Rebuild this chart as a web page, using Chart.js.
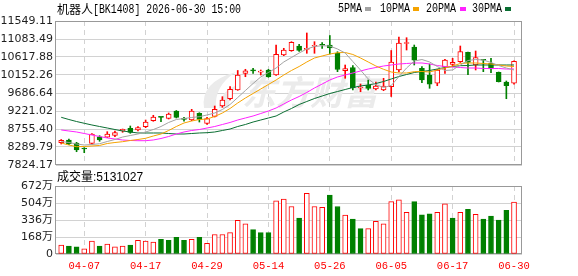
<!DOCTYPE html>
<html>
<head>
<meta charset="utf-8">
<script src="https://cdn.jsdelivr.net/npm/chart.js@4.4.1/dist/chart.umd.min.js"></script>
<style>
    html, body { margin: 0; padding: 0; background: #ffffff; }
    #wrap { position: relative; width: 578px; height: 276px; }
    #wrap canvas { position: absolute; left: 0; top: 0; }
</style>
</head>
<body>
<div id="wrap">
    <canvas id="priceChart" width="578" height="276"></canvas>
    <canvas id="volChart" width="578" height="276"></canvas>
</div>
<script>
// ===========================
// Data
// ===========================

const dates = [
    '04-01', '04-02', '04-03', '04-07', '04-08', '04-09', '04-10', '04-13', '04-14', '04-15',
    '04-16', '04-17', '04-20', '04-21', '04-22', '04-23', '04-24', '04-27', '04-28', '04-29',
    '04-30', '05-06', '05-07', '05-08', '05-11', '05-12', '05-13', '05-14', '05-15', '05-18',
    '05-19', '05-20', '05-21', '05-22', '05-25', '05-26', '05-27', '05-28', '05-29', '06-01',
    '06-02', '06-03', '06-04', '06-05', '06-08', '06-09', '06-10', '06-11', '06-12', '06-15',
    '06-16', '06-17', '06-18', '06-22', '06-23', '06-24', '06-25', '06-26', '06-29', '06-30'
];

const openP = [
    8401, 8471, 8393, 8246, 8385, 8556, 8541, 8592, 8704, 8773,
    8730, 8815, 8970, 9066, 9032, 9221, 9014, 8988, 9162, 8898,
    9084, 9350, 9539, 9764, 10196, 10269, 10225, 10282, 10152, 10670,
    10781, 10902, 10817, 10895, 10928, 10928, 10714, 10263, 10346, 9816,
    9894, 9790, 9764, 9850, 10282, 10967, 10877, 10326, 10152, 9938,
    10359, 10429, 10496, 10739, 10411, 10540, 10455, 10222, 9971, 9938
];
const highP = [
    8484, 8497, 8411, 8272, 8639, 8582, 8686, 8704, 8755, 8833,
    8815, 8988, 9110, 9071, 9169, 9234, 9058, 9265, 9177, 9058,
    9350, 9591, 9850, 10269, 10300, 10326, 10282, 10300, 10928, 10843,
    11014, 10946, 11239, 11014, 10988, 11174, 10755, 10411, 10398, 9919,
    10023, 9971, 10067, 10786, 11135, 11117, 10928, 10367, 10437, 10300,
    10558, 10584, 10902, 10747, 10773, 10553, 10584, 10230, 9997, 10522
];
const lowP = [
    8367, 8349, 8168, 8142, 8367, 8437, 8535, 8556, 8670, 8644,
    8704, 8789, 8955, 8944, 9014, 9040, 8955, 8970, 8936, 8877,
    9066, 9317, 9506, 9755, 10108, 10196, 10152, 10093, 10144, 10652,
    10765, 10765, 10714, 10714, 10843, 10695, 10238, 10067, 9764, 9720,
    9764, 9764, 9746, 9596, 10230, 10799, 10411, 9953, 9808, 9875,
    10196, 10367, 10476, 10160, 10282, 10238, 10212, 9971, 9539, 9912
];
const closeP = [
    8463, 8375, 8212, 8238, 8626, 8471, 8626, 8660, 8748, 8670,
    8789, 8936, 9066, 9055, 9143, 9058, 9004, 9221, 9006, 9027,
    9265, 9506, 9782, 10152, 10263, 10261, 10225, 10108, 10688, 10799,
    10998, 10791, 10833, 10908, 10921, 10851, 10295, 10320, 9816, 9816,
    9808, 9868, 9868, 10489, 10980, 10975, 10533, 10023, 9912, 10282,
    10535, 10481, 10760, 10476, 10605, 10533, 10307, 9979, 9875, 10507
];

const ma5 = [
    8432, 8406, 8367, 8341, 8354, 8375, 8432, 8484, 8548, 8587,
    8626, 8678, 8742, 8820, 8924, 9001, 9027, 9053, 9074, 9118,
    9169, 9260, 9389, 9570, 9751, 9932, 10101, 10217, 10333, 10489,
    10605, 10721, 10825, 10889, 10910, 10902, 10825, 10721, 10500, 10280,
    10050, 9900, 9830, 9880, 10110, 10333, 10514, 10553, 10489, 10372,
    10269, 10282, 10411, 10527, 10553, 10540, 10476, 10398, 10333, 10282
];
const ma10 = [
    8393, 8341, 8298, 8303, 8316, 8329, 8380, 8406, 8427, 8458,
    8484, 8515, 8574, 8626, 8717, 8820, 8911, 8962, 9001, 9014,
    9079, 9169, 9286, 9428, 9557, 9674, 9790, 9907, 10023, 10152,
    10269, 10372, 10489, 10592, 10644, 10695, 10729, 10734, 10683, 10592,
    10489, 10385, 10300, 10230, 10204, 10204, 10238, 10243, 10230, 10282,
    10333, 10385, 10450, 10463, 10463, 10450, 10437, 10411, 10385, 10372
];
const ma20 = [
    8730, 8704, 8678, 8639, 8600, 8561, 8523, 8497, 8471, 8458,
    8453, 8453, 8471, 8510, 8561, 8626, 8678, 8717, 8742, 8781,
    8820, 8872, 8924, 8988, 9040, 9092, 9156, 9221, 9299, 9402,
    9506, 9596, 9700, 9816, 9919, 10023, 10101, 10152, 10204, 10256,
    10307, 10346, 10385, 10411, 10437, 10450, 10463, 10463, 10437, 10398,
    10372, 10359, 10346, 10333, 10333, 10320, 10320, 10320, 10307, 10307
];
const ma30 = [
    9058, 9001, 8949, 8903, 8859, 8820, 8781, 8742, 8704, 8678,
    8652, 8652, 8652, 8652, 8639, 8626, 8626, 8639, 8652, 8660,
    8678, 8717, 8755, 8820, 8872, 8936, 8988, 9040, 9092, 9195,
    9286, 9389, 9467, 9544, 9609, 9674, 9725, 9777, 9829, 9868,
    9894, 9932, 9984, 10049, 10113, 10165, 10217, 10243, 10269, 10307,
    10346, 10372, 10393, 10398, 10411, 10411, 10411, 10411, 10411, 10411
];

// volume in 万 (10k shares); 1 = red (up) bar, 0 = green bar
const volume = [
    89, 79, 70, 51, 127, 79, 98, 70, 79, 89,
    136, 127, 117, 146, 136, 165, 136, 146, 165, 105,
    193, 193, 212, 333, 298, 241, 212, 212, 526, 542,
    469, 355, 599, 469, 460, 583, 469, 384, 346, 250,
    250, 323, 298, 517, 536, 412, 517, 387, 396, 412,
    495, 355, 412, 441, 393, 346, 374, 336, 431, 513.1
];
const volUp = [
    1, 0, 0, 1, 1, 0, 1, 1, 1, 0,
    1, 1, 1, 0, 0, 0, 0, 1, 0, 1,
    1, 1, 1, 1, 1, 0, 0, 0, 1, 1,
    1, 0, 1, 1, 1, 0, 0, 1, 0, 0,
    1, 1, 1, 1, 1, 1, 0, 0, 0, 1,
    1, 0, 1, 0, 1, 0, 0, 0, 0, 1
];

const priceTicks = [7824.17, 8289.79, 8755.40, 9221.02, 9686.64, 10152.26, 10617.88, 11083.49, 11549.11];
const volTicks = [0, 168, 336, 504, 672];
const axisDates = ['04-07', '04-17', '04-29', '05-14', '05-26', '06-05', '06-17', '06-30'];

const maNames = ['5PMA', '10PMA', '20PMA', '30PMA'];
const maSeries = [ma5, ma10, ma20, ma30];

const titleName = '机器人';
const titleCode = '[BK1408] 2026-06-30 15:00';
const volTitle = '成交量:5131027';

// ===========================
// Styles
// ===========================

const RED = '#ff0000';
const GREEN = '#008000';
const MA_COLORS = ['#a3a3a3', '#f5a300', '#ff22ff', '#0a6e32'];
const GRID = '#d2d2d2';
const FRAME = '#999999';
const X_MIN = -0.68;
const X_MAX = 60.04;
const tickIdx = axisDates.map(d => dates.indexOf(d));

const pts = arr => arr.map((v, i) => ({ x: i, y: v }));
const candleUp = i => closeP[i] >= openP[i];

function xScale(showLabels) {
    return {
        type: 'linear',
        min: X_MIN,
        max: X_MAX,
        offset: false,
        afterBuildTicks: s => { s.ticks = tickIdx.map(v => ({ value: v })); },
        afterFit: s => { s.height = showLabels ? 22 : 0; },
        grid: { color: GRID, drawTicks: false, offset: false },
        border: { display: false, dash: [5, 4] },
        ticks: {
            display: showLabels,
            autoSkip: false,
            maxRotation: 0,
            padding: 6,
            color: RED,
            font: { family: '"Liberation Mono"', size: 10.5 },
            callback: v => dates[v]
        }
    };
}

function frame(ctx, a) {
    ctx.strokeStyle = FRAME;
    ctx.lineWidth = 1;
    ctx.strokeRect(Math.round(a.left) - 0.5, Math.round(a.top) + 0.5,
        Math.round(a.right - a.left), Math.round(a.bottom - a.top) - 1);
}

// watermark, frame and header texts of the price panel
const priceDecor = {
    id: 'priceDecor',
    beforeDatasetsDraw(chart) {
        const ctx = chart.ctx;
        ctx.save();
        ctx.fillStyle = '#ebebeb';
        // logo swoosh
        ctx.beginPath();
        ctx.moveTo(204, 108);
        ctx.quadraticCurveTo(200, 82, 236, 72);
        ctx.quadraticCurveTo(214, 86, 216, 108);
        ctx.closePath();
        ctx.fill();
        ctx.beginPath();
        ctx.moveTo(219, 108);
        ctx.quadraticCurveTo(220, 90, 240, 84);
        ctx.quadraticCurveTo(228, 94, 229, 108);
        ctx.closePath();
        ctx.fill();
        ctx.font = 'italic bold 34px "Noto Sans CJK SC"';
        ctx.textBaseline = 'middle';
        ctx.fillText('东方财富', 242, 92);
        frame(ctx, chart.chartArea);
        ctx.restore();
    },
    afterDraw(chart) {
        const ctx = chart.ctx;
        ctx.save();
        ctx.fillStyle = '#000000';
        ctx.textBaseline = 'middle';
        ctx.font = '12px "Noto Sans CJK SC"';
        ctx.fillText(titleName, 57, 9);
        ctx.font = '12px "Liberation Mono"';
        ctx.fillText(titleCode, 93, 9.5, 148);

        const textX = [338, 380, 426, 472];
        const swatchX = [365, 413, 460, 505];
        maNames.forEach((name, k) => {
            ctx.fillStyle = '#000000';
            ctx.fillText(name, textX[k], 8.5, name.length * 6);
            ctx.fillStyle = MA_COLORS[k];
            ctx.fillRect(swatchX[k], 7, 6, 4);
        });
        ctx.restore();
    }
};

const volDecor = {
    id: 'volDecor',
    beforeDatasetsDraw(chart) {
        const ctx = chart.ctx;
        ctx.save();
        frame(ctx, chart.chartArea);
        ctx.fillStyle = '#000000';
        ctx.textBaseline = 'middle';
        ctx.font = '12px "Liberation Sans", "Noto Sans CJK SC"';
        ctx.fillText(volTitle, 57, 178);
        ctx.restore();
    }
};

const commonOpts = {
    responsive: false,
    animation: false,
    devicePixelRatio: 1,
    events: [],
    plugins: { legend: { display: false }, tooltip: { enabled: false } }
};

// ===========================
// Price (candlestick) chart
// ===========================

new Chart(document.getElementById('priceChart'), {
    type: 'bar',
    data: {
        datasets: [
            ...maNames.map((name, k) => ({
                type: 'line',
                label: name,
                data: pts(maSeries[k]),
                borderColor: MA_COLORS[k],
                borderWidth: 1,
                pointRadius: 0,
                tension: 0,
                order: 0
            })),
            {
                label: 'body',
                data: dates.map((d, i) => ({ x: i, y: [openP[i], closeP[i]] })),
                backgroundColor: dates.map((d, i) => candleUp(i) ? '#ffffff' : GREEN),
                borderColor: dates.map((d, i) => candleUp(i) ? RED : GREEN),
                borderWidth: 1,
                borderSkipped: false,
                barThickness: 5,
                minBarLength: 1,
                grouped: false,
                order: 1
            },
            {
                label: 'wick',
                data: dates.map((d, i) => ({ x: i, y: [lowP[i], highP[i]] })),
                backgroundColor: dates.map((d, i) => candleUp(i) ? RED : GREEN),
                borderWidth: 0,
                barThickness: 1,
                grouped: false,
                order: 2
            }
        ]
    },
    options: {
        ...commonOpts,
        layout: { padding: { top: 21, right: 56, bottom: 111, left: 0 } },
        scales: {
            x: xScale(false),
            y: {
                min: priceTicks[0],
                max: priceTicks[priceTicks.length - 1],
                stacked: false,
                afterBuildTicks: s => { s.ticks = priceTicks.map(v => ({ value: v })); },
                afterFit: s => { s.width = 56; },
                grid: { color: GRID, drawTicks: false },
                border: { display: false },
                ticks: {
                    padding: 3,
                    color: '#1e1e1e',
                    font: { family: '"DejaVu Sans"', size: 11 },
                    callback: v => v.toFixed(2)
                }
            }
        }
    },
    plugins: [priceDecor]
});

// ===========================
// Volume chart
// ===========================

new Chart(document.getElementById('volChart'), {
    type: 'bar',
    data: {
        datasets: [{
            label: '成交量',
            data: pts(volume),
            backgroundColor: volUp.map(u => u ? '#ffffff' : GREEN),
            borderColor: volUp.map(u => u ? RED : GREEN),
            borderWidth: 1,
            borderSkipped: false,
            barThickness: 5,
            grouped: false
        }]
    },
    options: {
        ...commonOpts,
        layout: { padding: { top: 186, right: 56, bottom: 0, left: 0 } },
        scales: {
            x: xScale(true),
            y: {
                min: 0,
                max: volTicks[volTicks.length - 1],
                afterBuildTicks: s => { s.ticks = volTicks.map(v => ({ value: v })); },
                afterFit: s => { s.width = 56; },
                grid: { color: GRID, drawTicks: false },
                border: { display: false },
                ticks: {
                    padding: 3,
                    color: '#1e1e1e',
                    font: { family: '"DejaVu Sans", "Noto Sans CJK SC"', size: 11 },
                    callback: v => v === 0 ? '0' : v + '万'
                }
            }
        }
    },
    plugins: [volDecor]
});
</script>
</body>
</html>
